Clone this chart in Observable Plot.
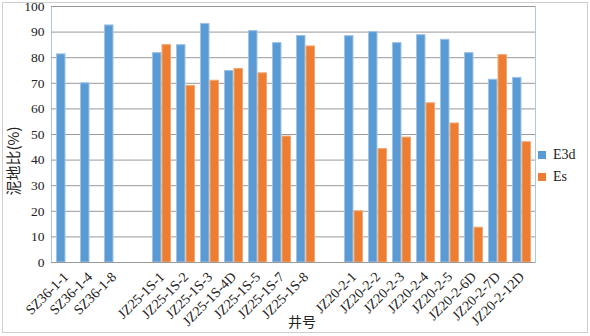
<!DOCTYPE html>
<html>
<head>
<meta charset="utf-8">
<script src="https://cdn.jsdelivr.net/npm/d3@7"></script>
<script src="https://cdn.jsdelivr.net/npm/@observablehq/plot@0.6"></script>
<style>
  html, body { margin: 0; padding: 0; background: #fff; }
  #wrap { position: relative; width: 590px; height: 336px; overflow: hidden; }
  #wrap svg { font-family: "Liberation Serif", "Times New Roman", serif !important; }
  #border { position: absolute; left: 2px; top: 2px; width: 584px; height: 329px; border: 1px solid #cfcfcf; pointer-events: none; }
  .leg { position: absolute; left: 538px; font-family: "Liberation Serif", serif; font-size: 14px; color: #222; display: flex; align-items: center; }
  .leg span.sw { display: inline-block; width: 8px; height: 8px; margin-right: 7px; }
  #xlab { position: absolute; left: 288px; top: 311px; font-family: "Noto Sans CJK SC", sans-serif; font-size: 14px; color: #222; }
  #ylab { position: absolute; left: 12px; top: 161px; transform: translate(-50%, -50%) rotate(-90deg); white-space: nowrap;
          font-family: "Noto Sans CJK SC", sans-serif; font-size: 15px; color: #222; line-height: 1; }
</style>
</head>
<body>
<div id="wrap"><div id="border"></div><div id="xlab">井号</div><div id="ylab">泥地比(%)</div></div>
<script>
const categories = ["SZ36-1-1","SZ36-1-4","SZ36-1-8","gap1",
  "JZ25-1S-1","JZ25-1S-2","JZ25-1S-3","JZ25-1S-4D","JZ25-1S-5","JZ25-1S-7","JZ25-1S-8","gap2",
  "JZ20-2-1","JZ20-2-2","JZ20-2-3","JZ20-2-4","JZ20-2-5","JZ20-2-6D","JZ20-2-7D","JZ20-2-12D"];
const e3d = [81.3, 70.0, 92.6, null, 81.8, 84.9, 93.2, 74.8, 90.4, 85.7, 88.5, null,
  88.4, 90.0, 85.7, 88.8, 87.0, 81.8, 71.4, 72.1];
const es = [null, null, null, null, 84.9, 69.0, 71.0, 75.6, 73.9, 49.2, 84.4, null,
  20.0, 44.3, 48.8, 62.2, 54.3, 13.6, 81.0, 47.0];
const seriesNames = ["E3d", "Es"];
const seriesColors = ["#5b9bd5", "#ed7d31"];
const seriesEdges = ["#9cc3e8", "#f3a874"];
const yTicks = d3.range(0, 101, 10);

const rowsE3d = categories.map((c, i) => ({cat: c, v: e3d[i]})).filter(d => d.v != null);
const rowsEs = categories.map((c, i) => ({cat: c, v: es[i]})).filter(d => d.v != null);

const W = 590, H = 336, mL = 51, mR = 55;
const padInner = 0.215;
const step = (W - mL - mR) / categories.length;
const half = step * (1 - padInner) / 2;
const fmt = d => d.startsWith("gap") ? "" : d;

const chart = Plot.plot({
  width: W, height: H,
  marginLeft: mL, marginRight: mR, marginTop: 6, marginBottom: 74,
  style: {fontFamily: "'Liberation Serif', serif", fontSize: "13px", color: "#222", background: "#fff"},
  x: {domain: categories, paddingInner: padInner, paddingOuter: padInner / 2},
  y: {domain: [0, 100]},
  marks: [
    Plot.frame({stroke: "#a9c9ea"}),
    Plot.gridY(yTicks, {stroke: "#9a9a9a", strokeOpacity: 1}),
    Plot.barY(rowsE3d, {x: "cat", y: "v", fill: seriesColors[0], stroke: seriesEdges[0], strokeWidth: 1,
      insetRight: half + 0.5, insetLeft: 0.5}),
    Plot.barY(rowsEs, {x: "cat", y: "v", fill: seriesColors[1], stroke: seriesEdges[1], strokeWidth: 1,
      insetLeft: half + 0.5, insetRight: 0.5}),
    Plot.ruleY([0], {stroke: "#9a9a9a"}),
    Plot.axisY({ticks: yTicks, tickSize: 0, tickPadding: 7, fontSize: 13.5, label: null}),
    Plot.axisX({tickFormat: fmt, tickRotate: -45, tickSize: 0, tickPadding: 12, fontSize: 14, label: null})
  ]
});
const wrap = document.getElementById("wrap");
wrap.insertBefore(chart, wrap.firstChild);

seriesNames.forEach((name, i) => {
  const d = document.createElement("div");
  d.className = "leg";
  d.style.top = (147 + i * 22) + "px";
  d.innerHTML = `<span class="sw" style="background:${seriesColors[i]}"></span>${name}`;
  wrap.appendChild(d);
});
</script>
</body>
</html>
